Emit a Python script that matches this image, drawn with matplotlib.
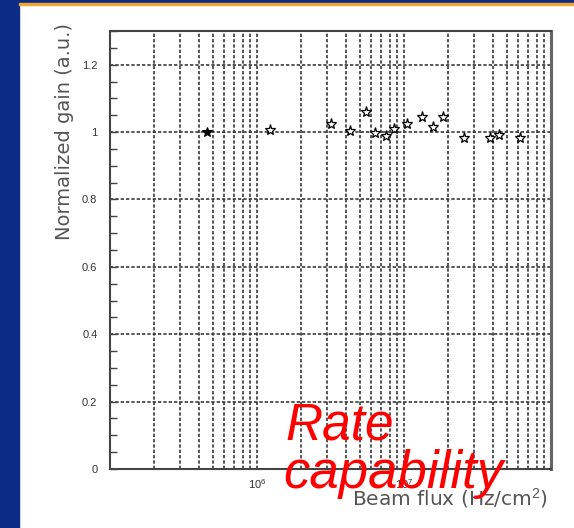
import numpy as np
import matplotlib
matplotlib.use("Agg")
import matplotlib.pyplot as plt
from matplotlib.patches import Rectangle
from matplotlib.ticker import LogLocator, FixedLocator, FixedFormatter, MultipleLocator, NullFormatter

plt.rcParams["font.family"] = ["Liberation Sans", "DejaVu Sans"]
plt.rcParams["mathtext.fontset"] = "custom"
plt.rcParams["mathtext.rm"] = "Liberation Sans"

# beam flux (Hz/cm^2) and normalized gain
flux_ref = [4.6e5]
gain_ref = [1.0]

flux = [1.22e6, 3.2e6, 4.3e6, 5.5e6, 6.35e6, 7.5e6, 8.55e6, 1.05e7,
        1.32e7, 1.57e7, 1.83e7, 2.56e7, 3.86e7, 4.43e7, 6.15e7]
gain = [1.005, 1.025, 1.002, 1.059, 0.997, 0.989, 1.010, 1.024,
        1.046, 1.014, 1.044, 0.982, 0.982, 0.992, 0.982]

yticks = [0, 0.2, 0.4, 0.6, 0.8, 1.0, 1.2]
ytick_labels = ["0", "0.2", "0.4", "0.6", "0.8", "1", "1.2"]
xticks = [1e6, 1e7]
xtick_labels = [r"$10^6$", r"$10^7$"]

W, H = 574, 528
fig = plt.figure(figsize=(W / 100, H / 100), dpi=100, facecolor="white")

# slide frame
blue = "#0a2b86"
fig.patches.append(Rectangle((0, 0), 19 / W, 1, transform=fig.transFigure,
                             color=blue, zorder=0))
fig.patches.append(Rectangle((0, 1 - 3 / H), 1, 3 / H, transform=fig.transFigure,
                             color=blue, zorder=0))
fig.patches.append(Rectangle((19 / W, 1 - 5 / H), 1, 2 / H, transform=fig.transFigure,
                             color="#f2a531", zorder=0))

ax = fig.add_axes([110 / W, 1 - 469 / H, 441 / W, 438 / H])
ax.set_xscale("log")
ax.set_xlim(1e5, 1e8)
ax.set_ylim(0, 1.3)

grid_kw = dict(color="#3a3a3a", linestyle=(0, (2, 1.2)), linewidth=1.2)
ax.xaxis.set_major_locator(FixedLocator(xticks))
ax.xaxis.set_major_formatter(FixedFormatter(xtick_labels))
ax.xaxis.set_minor_locator(LogLocator(base=10, subs=np.arange(2, 10), numticks=20))
ax.xaxis.set_minor_formatter(NullFormatter())
ax.grid(True, which="both", axis="x", **grid_kw)

ax.yaxis.set_major_locator(FixedLocator(yticks))
ax.yaxis.set_major_formatter(FixedFormatter(ytick_labels))
ax.yaxis.set_minor_locator(MultipleLocator(0.05))
ax.grid(True, which="major", axis="y", **grid_kw)

ax.tick_params(axis="y", which="both", direction="in", length=5, width=1,
               color="#444444", labelsize=8, labelcolor="#333333", pad=9)
ax.tick_params(axis="x", which="both", direction="in", length=0,
               labelsize=8, labelcolor="#333333", pad=6)
for s in ax.spines.values():
    s.set_color("#444444")
    s.set_linewidth(1.5)
ax.spines["right"].set_linewidth(2.2)
ax.spines["right"].set_color("#666666")

ax.plot(flux_ref, gain_ref, ls="none", marker="*", ms=7,
        mfc="black", mec="black", mew=0.8, zorder=3)
ax.plot(flux, gain, ls="none", marker="*", ms=8,
        mfc="white", mec="black", mew=0.9, zorder=3)

fig.text(64 / W, 1 - 132 / H, "Normalized gain (a.u.)", rotation=90,
         ha="center", va="center", fontsize=14, color="#555555",
         family="DejaVu Sans")
fig.text(548 / W, 1 - 505 / H, r"Beam flux (Hz/cm$^2$)",
         ha="right", va="baseline", fontsize=14.5, color="#555555",
         family="DejaVu Sans")

# slide caption over the plot
fig.text(285 / W, 1 - 440 / H, "Rate", ha="left", va="baseline",
         fontsize=37, style="italic", color="#ff0000", zorder=10)
fig.text(283 / W, 1 - 488 / H, "capability", ha="left", va="baseline",
         fontsize=38, style="italic", color="#ff0000", zorder=10)

fig.savefig("out.png", dpi=100, facecolor="white")
